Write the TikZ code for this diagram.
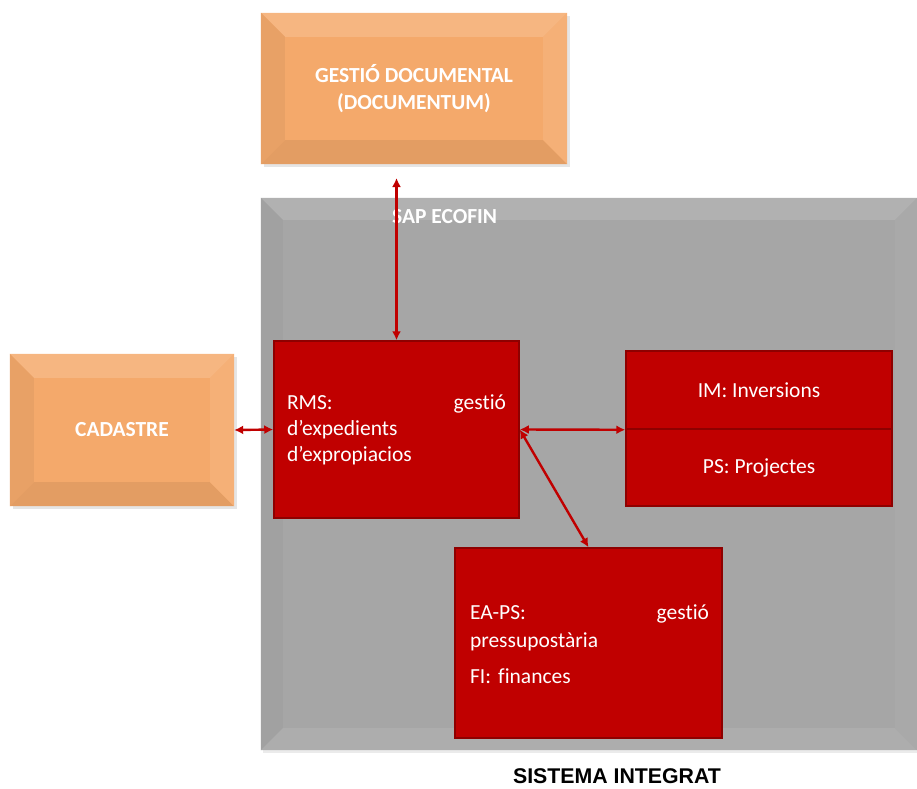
\documentclass[tikz,border=0pt]{standalone}
\usepackage{fontspec}
\setmainfont{Carlito}[Ligatures=CommonOff]
\newfontfamily\arialfont{Liberation Sans}
\usetikzlibrary{arrows.meta,calc}
\frenchspacing
\definecolor{orng}{HTML}{F4A96B}
\definecolor{graybox}{HTML}{A6A6A6}
\definecolor{redbox}{HTML}{C00000}
\definecolor{redline}{HTML}{8E0000}
\definecolor{arrowred}{HTML}{C00000}
\newcommand\bevel[7]{% node, size, colour, top, left, bottom, right mixes
  \fill[#4] (#1.north west) -- (#1.north east) -- ([shift={(-#2,-#2)}]#1.north east) -- ([shift={(#2,-#2)}]#1.north west) -- cycle;
  \fill[#5] (#1.north west) -- (#1.south west) -- ([shift={(#2,#2)}]#1.south west) -- ([shift={(#2,-#2)}]#1.north west) -- cycle;
  \fill[#6] (#1.south west) -- (#1.south east) -- ([shift={(-#2,#2)}]#1.south east) -- ([shift={(#2,#2)}]#1.south west) -- cycle;
  \fill[#7] (#1.north east) -- (#1.south east) -- ([shift={(-#2,#2)}]#1.south east) -- ([shift={(-#2,-#2)}]#1.north east) -- cycle;
  \fill[#3] ([shift={(#2,-#2)}]#1.north west) rectangle ([shift={(-#2,#2)}]#1.south east);
}
\begin{document}
\begin{tikzpicture}[x=1pt,y=-1pt,
  orbox/.style={fill=orng, inner sep=0pt, text=white, font=\fontsize{21.5}{27}\selectfont\bfseries\frenchspacing, align=center},
  redb/.style={fill=redbox, draw=redline, line width=1.5pt, inner sep=0pt, text=white, font=\fontsize{21.5}{26}\selectfont\frenchspacing},
  arr/.style={draw=arrowred, line width=2.4pt, {Latex[length=9pt,width=9pt]}-{Latex[length=9pt,width=9pt]}}]
\useasboundingbox (0,0) rectangle (917,788);

% SAP ECOFIN container
\fill[black!8] (263,201) rectangle (917,753);
\node[fill=graybox, inner sep=0pt, minimum width=656pt, minimum height=552pt] (sap) at (589,474) {};
\bevel{sap}{22pt}{graybox}{graybox!88!white}{graybox!97!black}{graybox!92!white}{graybox!97!white}
\node[text=white, font=\fontsize{21.5}{26}\selectfont\bfseries, anchor=west, inner sep=0pt] (saptitle) at (392,217) {SAP ECOFIN};

% Gestio documental
\fill[black!10] (264,16) rectangle (570,167);
\node[orbox, minimum width=306pt, minimum height=151pt] (gest) at (414,88.5) {};
\bevel{gest}{24pt}{orng}{orng!85!white}{orng!95!black}{orng!93!black}{orng!92!white}
\node[orbox] (gesttext) at (gest.center) {GESTIÓ DOCUMENTAL\\(DOCUMENTUM)};

% Cadastre
\fill[black!10] (13,357) rectangle (237,509);
\node[orbox, minimum width=224pt, minimum height=152pt] (cad) at (122,430) {};
\bevel{cad}{24pt}{orng}{orng!85!white}{orng!95!black}{orng!93!black}{orng!92!white}
\node[orbox] (cadtext) at (cad.center) {CADASTRE};

% RMS
\node[redb, minimum width=245pt, minimum height=177pt] (rms) at (396.5,429.5) {};
\node[text=white, font=\fontsize{21.5}{26}\selectfont\frenchspacing, text width=219pt, align=left, inner sep=0pt] (rmstext) at (396.5,430)
  {RMS:\hskip 0pt plus 1filll gestió\\d’expedients\\d’expropiacios};

% IM / PS
\node[redb, minimum width=266pt, minimum height=78pt] (im) at (759,390) {IM: Inversions};
\node[redb, minimum width=266pt, minimum height=77pt] (ps) at (759,467.5) {PS: Projectes};

% EA-PS
\node[redb, minimum width=267pt, minimum height=190pt] (ea) at (588.5,643) {};
\node[text=white, font=\fontsize{21.5}{28}\selectfont\frenchspacing, text width=239pt, align=left, inner sep=0pt] (eatext) at (589.5,644)
  {EA-PS:\hskip 0pt plus 1filll gestió\\pressupostària\\[8pt]FI: finances};

% caption
\node[font=\arialfont\bfseries\fontsize{21.3}{24}\selectfont, inner sep=0pt] (caption) at (617,776) {SISTEMA INTEGRAT};

% connectors
\coordinate (gtip) at (396.5,178);
\draw[arr] (gtip) -- (rms.north);
\draw[arr] (cad.east) -- (rms.west);
\draw[arr] (rms.east) -- (im.south west);
\draw[arr] (rms.east) -- (ea.north);
\end{tikzpicture}
\end{document}
